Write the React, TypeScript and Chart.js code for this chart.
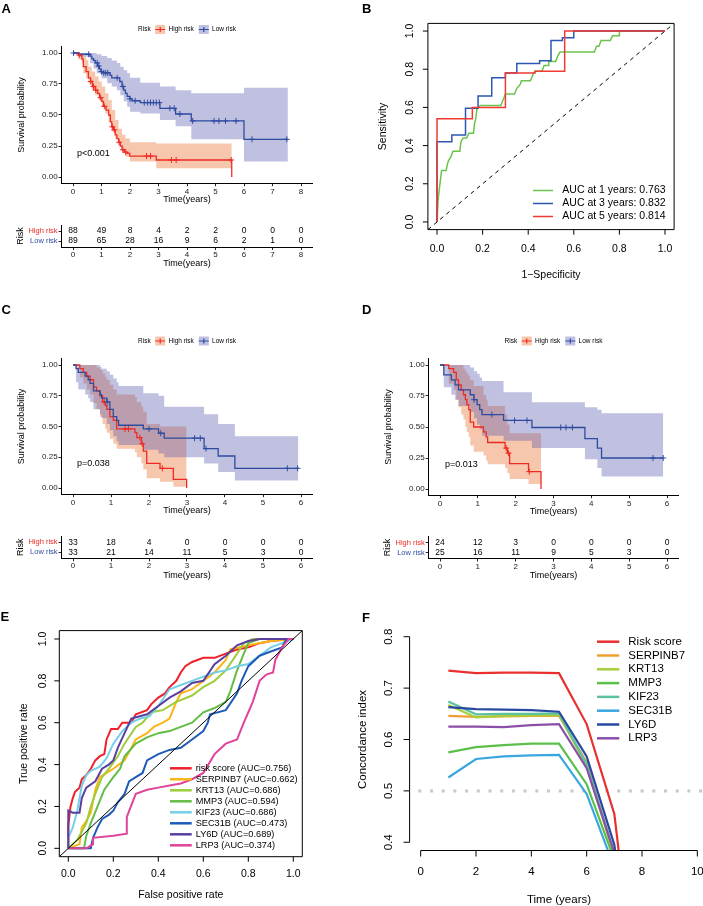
import React, { useEffect, useRef } from "react";
import { Chart, registerables } from "chart.js";

Chart.register(...registerables);

const FONT = '"Liberation Sans", Arial, Helvetica, sans-serif';
Chart.defaults.font.family = FONT;
Chart.defaults.color = "#000";

// ---------------- Panel A : KM (training) ----------------
const aYears = [0, 1, 2, 3, 4, 5, 6, 7, 8];
const aAtRiskHigh = [88, 49, 8, 4, 2, 2, 0, 0, 0];
const aAtRiskLow = [89, 65, 28, 16, 9, 6, 2, 1, 0];
const aHighTime = [0, 0.19, 0.31, 0.36, 0.46, 0.54, 0.62, 0.68, 0.78, 0.86, 0.93, 1.01, 1.07, 1.16, 1.25, 1.31, 1.36, 1.42, 1.48, 1.54, 1.6, 1.66, 1.72, 1.8, 1.9, 1.99, 2.92, 5.57];
const aHighSurv = [1, 0.984, 0.95, 0.89, 0.85, 0.8, 0.77, 0.73, 0.7, 0.675, 0.64, 0.61, 0.57, 0.54, 0.5, 0.445, 0.405, 0.38, 0.34, 0.31, 0.28, 0.25, 0.22, 0.2, 0.19, 0.169, 0.137, 0];
const aHighBandTime = [0, 0.19, 0.31, 0.36, 0.46, 0.54, 0.66, 0.78, 0.9, 1.01, 1.13, 1.25, 1.36, 1.48, 1.6, 1.72, 1.84, 2.0, 2.92, 5.57];
const aHighUpper = [1, 1, 0.99, 0.97, 0.944, 0.89, 0.85, 0.81, 0.77, 0.73, 0.675, 0.62, 0.54, 0.46, 0.39, 0.34, 0.31, 0.28, 0.27, 0.27];
const aHighLower = [1, 0.95, 0.917, 0.836, 0.796, 0.755, 0.7, 0.66, 0.62, 0.567, 0.513, 0.446, 0.366, 0.31, 0.258, 0.204, 0.164, 0.124, 0.07, 0.07];
const aHighCensTime = [0.22, 0.62, 0.72, 0.8, 0.97, 1.1, 1.38, 1.45, 1.62, 1.75, 1.85, 2.58, 2.72, 3.45, 3.62, 5.55];
const aHighCensSurv = [0.984, 0.77, 0.73, 0.7, 0.64, 0.57, 0.405, 0.38, 0.28, 0.22, 0.2, 0.169, 0.169, 0.137, 0.137, 0.137];
const aLowTime = [0, 0.19, 0.6, 0.66, 0.72, 0.78, 0.86, 0.93, 0.98, 1.05, 1.3, 1.36, 1.64, 1.72, 1.78, 1.84, 1.9, 1.99, 2.07, 2.36, 3.05, 3.6, 4.15, 6.0, 7.54];
const aLowSurv = [1, 0.99, 0.975, 0.955, 0.94, 0.92, 0.895, 0.87, 0.85, 0.84, 0.82, 0.8, 0.77, 0.73, 0.7, 0.675, 0.65, 0.63, 0.615, 0.6, 0.554, 0.508, 0.452, 0.304, 0.304];
const aLowBandTime = [0, 0.19, 0.6, 0.72, 0.83, 1.0, 1.2, 1.36, 1.54, 1.66, 1.78, 1.9, 2.0, 2.36, 3.05, 3.6, 4.15, 6.0, 7.54];
const aLowUpper = [1, 1, 1, 1, 0.99, 0.975, 0.96, 0.94, 0.92, 0.89, 0.86, 0.836, 0.8, 0.76, 0.73, 0.7, 0.675, 0.72, 0.72];
const aLowLower = [1, 0.97, 0.917, 0.876, 0.836, 0.796, 0.756, 0.73, 0.7, 0.66, 0.61, 0.567, 0.527, 0.513, 0.46, 0.41, 0.304, 0.124, 0.124];
const aLowCensTime = [0.02, 0.55, 0.85, 0.9, 1.0, 1.08, 1.15, 1.22, 1.55, 1.75, 2.0, 2.18, 2.5, 2.62, 2.72, 2.82, 2.92, 3.03, 3.4, 3.55, 3.75, 4.2, 4.95, 5.12, 5.35, 5.72, 6.28, 7.5];
const aLowCensSurv = [1, 0.99, 0.92, 0.895, 0.85, 0.84, 0.84, 0.84, 0.8, 0.73, 0.63, 0.615, 0.6, 0.6, 0.6, 0.6, 0.6, 0.6, 0.554, 0.554, 0.508, 0.452, 0.452, 0.452, 0.452, 0.452, 0.304, 0.304];

// ---------------- Panel C : KM (validation 1) ----------------
const cYears = [0, 1, 2, 3, 4, 5, 6];
const cAtRiskHigh = [33, 18, 4, 0, 0, 0, 0];
const cAtRiskLow = [33, 21, 14, 11, 5, 3, 0];
const cHighTime = [0, 0.18, 0.27, 0.36, 0.45, 0.54, 0.62, 0.71, 0.78, 0.85, 0.89, 0.97, 1.06, 1.15, 1.63, 1.68, 1.8, 1.85, 1.94, 2.29, 2.64, 2.99];
const cHighSurv = [1, 0.97, 0.94, 0.91, 0.88, 0.82, 0.79, 0.75, 0.7, 0.67, 0.64, 0.58, 0.55, 0.48, 0.45, 0.41, 0.36, 0.3, 0.2, 0.16, 0.07, 0];
const cHighUpper = [1, 1, 1, 1, 1, 1, 0.98, 0.96, 0.93, 0.9, 0.88, 0.84, 0.8, 0.76, 0.74, 0.7, 0.66, 0.62, 0.52, 0.5, 0.5, 0.5];
const cHighLower = [1, 0.9, 0.85, 0.8, 0.76, 0.69, 0.64, 0.58, 0.52, 0.48, 0.45, 0.4, 0.36, 0.32, 0.29, 0.25, 0.2, 0.15, 0.08, 0.05, 0.01, 0.01];
const cHighCensTime = [0.82, 1.37, 1.46, 1.76, 1.82, 2.35];
const cHighCensSurv = [0.7, 0.48, 0.48, 0.41, 0.36, 0.16];
const cLowTime = [0, 0.08, 0.14, 0.32, 0.4, 0.45, 0.54, 0.71, 0.75, 0.89, 0.97, 1.06, 1.15, 1.2, 1.85, 2.25, 2.4, 3.45, 3.82, 4.26, 5.93];
const cLowSurv = [1, 0.97, 0.94, 0.91, 0.88, 0.85, 0.79, 0.76, 0.73, 0.7, 0.64, 0.58, 0.55, 0.51, 0.48, 0.445, 0.405, 0.32, 0.26, 0.16, 0.16];
const cLowUpper = [1, 1, 1, 1, 1, 1, 1, 0.985, 0.97, 0.95, 0.92, 0.89, 0.86, 0.83, 0.77, 0.75, 0.66, 0.6, 0.52, 0.42, 0.42];
const cLowLower = [1, 0.86, 0.8, 0.76, 0.73, 0.7, 0.64, 0.6, 0.57, 0.52, 0.47, 0.42, 0.38, 0.35, 0.31, 0.28, 0.25, 0.2, 0.13, 0.06, 0.06];
const cLowCensTime = [0.9, 2.0, 2.31, 3.2, 3.35, 3.5, 5.64, 5.91];
const cLowCensSurv = [0.7, 0.48, 0.445, 0.405, 0.405, 0.32, 0.16, 0.16];

// ---------------- Panel D : KM (validation 2) ----------------
const dYears = [0, 1, 2, 3, 4, 5, 6];
const dAtRiskHigh = [24, 12, 3, 0, 0, 0, 0];
const dAtRiskLow = [25, 16, 11, 9, 5, 3, 0];
const dHighTime = [0, 0.23, 0.36, 0.43, 0.49, 0.56, 0.62, 0.67, 0.71, 0.76, 0.8, 0.89, 1.15, 1.22, 1.26, 1.72, 1.78, 1.84, 2.34, 2.67];
const dHighSurv = [1, 0.97, 0.94, 0.88, 0.84, 0.8, 0.76, 0.72, 0.68, 0.64, 0.54, 0.5, 0.46, 0.42, 0.375, 0.33, 0.29, 0.205, 0.14, 0];
const dHighUpper = [1, 1, 1, 1, 1, 1, 0.97, 0.95, 0.93, 0.91, 0.88, 0.83, 0.76, 0.72, 0.67, 0.6, 0.52, 0.45, 0.45, 0.45];
const dHighLower = [1, 0.85, 0.8, 0.72, 0.66, 0.6, 0.56, 0.5, 0.46, 0.42, 0.35, 0.3, 0.27, 0.23, 0.2, 0.17, 0.13, 0.08, 0.04, 0.04];
const dHighCensTime = [1.75, 1.81, 2.36];
const dHighCensSurv = [0.33, 0.29, 0.14];
const dLowTime = [0, 0.1, 0.3, 0.4, 0.49, 0.8, 0.9, 0.98, 1.05, 1.11, 1.68, 2.43, 3.83, 4.16, 4.27, 5.9];
const dLowSurv = [1, 0.92, 0.88, 0.84, 0.8, 0.76, 0.72, 0.68, 0.64, 0.6, 0.553, 0.496, 0.407, 0.33, 0.25, 0.25];
const dLowUpper = [1, 1, 1, 1, 1, 0.98, 0.95, 0.93, 0.9, 0.87, 0.78, 0.7, 0.66, 0.64, 0.61, 0.61];
const dLowLower = [1, 0.82, 0.76, 0.72, 0.67, 0.62, 0.57, 0.52, 0.48, 0.43, 0.39, 0.33, 0.24, 0.17, 0.1, 0.1];
const dLowCensTime = [0.9, 1.37, 1.97, 2.3, 3.19, 3.33, 3.5, 5.63, 5.9];
const dLowCensSurv = [0.72, 0.6, 0.553, 0.553, 0.496, 0.496, 0.496, 0.25, 0.25];

// ---------------- Panel B : time-dependent ROC ----------------
const bTicks = [0, 0.2, 0.4, 0.6, 0.8, 1.0];
const bLegend = ["AUC at 1 years: 0.763", "AUC at 3 years: 0.832", "AUC at 5 years: 0.814"];
const bFpr1 = [0, 0.005, 0.01, 0.015, 0.02, 0.04, 0.045, 0.05, 0.06, 0.07, 0.1, 0.105, 0.115, 0.13, 0.14, 0.16, 0.165, 0.17, 0.175, 0.19, 0.28, 0.29, 0.3, 0.34, 0.35, 0.365, 0.37, 0.41, 0.42, 0.43, 0.46, 0.47, 0.49, 0.49, 0.52, 0.53, 0.54, 0.69, 0.7, 0.71, 0.72, 0.76, 0.77, 0.8, 0.8, 1];
const bTpr1 = [0, 0.12, 0.17, 0.22, 0.27, 0.27, 0.3, 0.32, 0.34, 0.37, 0.37, 0.42, 0.44, 0.44, 0.465, 0.465, 0.52, 0.54, 0.59, 0.61, 0.61, 0.64, 0.67, 0.67, 0.7, 0.72, 0.74, 0.74, 0.77, 0.79, 0.79, 0.82, 0.82, 0.84, 0.84, 0.87, 0.89, 0.89, 0.92, 0.92, 0.95, 0.95, 0.975, 0.975, 1, 1];
const bFpr3 = [0, 0, 0.065, 0.065, 0.125, 0.125, 0.18, 0.18, 0.24, 0.24, 0.3, 0.3, 0.35, 0.35, 0.45, 0.45, 0.5, 0.5, 0.55, 0.55, 0.6, 0.6, 1];
const bTpr3 = [0, 0.42, 0.42, 0.455, 0.455, 0.595, 0.595, 0.66, 0.66, 0.755, 0.755, 0.78, 0.78, 0.83, 0.83, 0.845, 0.845, 0.95, 0.95, 0.965, 0.965, 1, 1];
const bFpr5 = [0, 0, 0.155, 0.155, 0.3, 0.3, 0.43, 0.43, 0.56, 0.56, 1];
const bTpr5 = [0, 0.54, 0.54, 0.6, 0.6, 0.78, 0.78, 0.79, 0.79, 1, 1];

// ---------------- Panel E : ROC of score and genes ----------------
const eTicks = [0, 0.2, 0.4, 0.6, 0.8, 1.0];
const eNames = ["risk score (AUC=0.756)", "SERPINB7 (AUC=0.662)", "KRT13 (AUC=0.686)", "MMP3 (AUC=0.594)", "KIF23 (AUC=0.686)", "SEC31B (AUC=0.473)", "LY6D (AUC=0.689)", "LRP3 (AUC=0.374)"];
const eRiskFpr = [0, 0, 0.01, 0.02, 0.03, 0.05, 0.06, 0.08, 0.1, 0.12, 0.14, 0.16, 0.17, 0.19, 0.22, 0.24, 0.28, 0.29, 0.3, 0.35, 0.37, 0.4, 0.43, 0.45, 0.48, 0.5, 0.52, 0.55, 0.6, 0.65, 0.7, 0.75, 0.8, 0.85, 0.9, 1];
const eRiskTpr = [0, 0.11, 0.2, 0.24, 0.27, 0.29, 0.33, 0.35, 0.38, 0.42, 0.44, 0.45, 0.52, 0.57, 0.57, 0.6, 0.6, 0.62, 0.64, 0.66, 0.69, 0.72, 0.74, 0.77, 0.8, 0.84, 0.87, 0.89, 0.91, 0.91, 0.93, 0.95, 0.96, 0.98, 0.99, 1];
const eSerpFpr = [0, 0.05, 0.06, 0.08, 0.1, 0.12, 0.14, 0.17, 0.2, 0.25, 0.3, 0.35, 0.38, 0.42, 0.45, 0.48, 0.5, 0.55, 0.6, 0.65, 0.7, 0.72, 0.8, 0.9, 1];
const eSerpTpr = [0, 0.02, 0.1, 0.13, 0.17, 0.28, 0.34, 0.36, 0.38, 0.42, 0.52, 0.55, 0.58, 0.6, 0.62, 0.7, 0.74, 0.76, 0.8, 0.84, 0.9, 0.95, 0.97, 0.99, 1];
const eKrtFpr = [0, 0.04, 0.06, 0.08, 0.1, 0.12, 0.15, 0.18, 0.22, 0.25, 0.3, 0.33, 0.37, 0.42, 0.48, 0.55, 0.6, 0.65, 0.7, 0.75, 0.78, 0.82, 1];
const eKrtTpr = [0, 0.04, 0.08, 0.12, 0.2, 0.26, 0.34, 0.38, 0.44, 0.5, 0.58, 0.6, 0.65, 0.66, 0.7, 0.73, 0.77, 0.8, 0.85, 0.93, 0.98, 1, 1];
const eMmpFpr = [0, 0.07, 0.08, 0.1, 0.13, 0.16, 0.2, 0.23, 0.25, 0.3, 0.35, 0.4, 0.45, 0.5, 0.55, 0.6, 0.65, 0.7, 0.72, 0.75, 0.78, 0.8, 0.85, 1];
const eMmpTpr = [0, 0, 0.06, 0.12, 0.2, 0.28, 0.34, 0.38, 0.44, 0.5, 0.53, 0.55, 0.56, 0.58, 0.6, 0.65, 0.67, 0.7, 0.75, 0.85, 0.93, 0.98, 1, 1];
const eKifFpr = [0, 0, 0.02, 0.04, 0.06, 0.08, 0.1, 0.14, 0.17, 0.2, 0.24, 0.28, 0.32, 0.36, 0.4, 0.45, 0.5, 0.55, 0.6, 0.65, 0.7, 0.75, 0.8, 0.85, 0.9, 1];
const eKifTpr = [0, 0.05, 0.1, 0.18, 0.3, 0.35, 0.37, 0.39, 0.43, 0.5, 0.56, 0.6, 0.62, 0.63, 0.68, 0.76, 0.78, 0.8, 0.82, 0.84, 0.85, 0.87, 0.88, 0.92, 0.96, 1];
const eSecFpr = [0, 0.1, 0.11, 0.13, 0.15, 0.18, 0.2, 0.22, 0.25, 0.27, 0.3, 0.33, 0.35, 0.4, 0.45, 0.5, 0.55, 0.6, 0.62, 0.63, 0.7, 0.75, 0.77, 0.8, 0.85, 0.9, 0.95, 0.97, 1];
const eSecTpr = [0, 0, 0.05, 0.1, 0.14, 0.16, 0.18, 0.22, 0.26, 0.32, 0.34, 0.36, 0.42, 0.45, 0.47, 0.48, 0.52, 0.56, 0.6, 0.64, 0.66, 0.74, 0.8, 0.87, 0.92, 0.94, 0.96, 1, 1];
const eLyFpr = [0, 0, 0.02, 0.05, 0.06, 0.08, 0.12, 0.15, 0.18, 0.2, 0.22, 0.25, 0.28, 0.35, 0.4, 0.45, 0.5, 0.55, 0.6, 0.65, 0.7, 0.75, 0.8, 0.85, 1];
const eLyTpr = [0, 0.18, 0.17, 0.17, 0.24, 0.29, 0.32, 0.38, 0.4, 0.42, 0.48, 0.55, 0.62, 0.64, 0.68, 0.72, 0.75, 0.79, 0.8, 0.88, 0.92, 0.97, 0.99, 1, 1];
const eLrpFpr = [0, 0.08, 0.11, 0.11, 0.2, 0.26, 0.26, 0.3, 0.35, 0.4, 0.45, 0.5, 0.55, 0.6, 0.65, 0.7, 0.75, 0.78, 0.8, 0.82, 0.85, 0.88, 0.91, 0.92, 0.95, 0.98, 1];
const eLrpTpr = [0, 0, 0.02, 0.05, 0.06, 0.07, 0.15, 0.26, 0.28, 0.29, 0.3, 0.31, 0.33, 0.36, 0.45, 0.5, 0.52, 0.6, 0.65, 0.7, 0.8, 0.83, 0.84, 0.9, 0.96, 1, 1];

// ---------------- Panel F : C-index over time ----------------
const fXTicks = [0, 2, 4, 6, 8, 10];
const fYTicks = [0.4, 0.5, 0.6, 0.7, 0.8];
const fNames = ["Risk score", "SERPINB7", "KRT13", "MMP3", "KIF23", "SEC31B", "LY6D", "LRP3"];
const fTimes = [1, 2, 3, 4, 5, 6, 7, 8];
const fRisk = [0.734, 0.729, 0.73, 0.73, 0.729, 0.63, 0.455, 0.0];
const fSerp = [0.646, 0.644, 0.645, 0.646, 0.646, 0.556, 0.373, 0.0];
const fKrt = [0.667, 0.643, 0.646, 0.647, 0.648, 0.548, 0.373, 0.0];
const fMmp = [0.575, 0.585, 0.589, 0.592, 0.592, 0.513, 0.366, 0.0];
const fKif = [0.674, 0.649, 0.65, 0.65, 0.651, 0.552, 0.378, 0.0];
const fSec = [0.526, 0.562, 0.567, 0.569, 0.57, 0.494, 0.351, 0.0];
const fLy = [0.663, 0.659, 0.658, 0.657, 0.654, 0.567, 0.395, 0.0];
const fLrp = [0.625, 0.625, 0.624, 0.628, 0.63, 0.544, 0.379, 0.0];
const fRef = 0.5;

// ---------------- styles ----------------
const KM_RED = "#EE2A24";
const KM_BLUE = "#2E4C9F";
const KM_RED_BAND = "rgba(232,86,6,0.33)";
const KM_BLUE_BAND = "rgba(81,84,172,0.36)";
const B_COLORS = ["#6DC24B", "#2B57B3", "#F23A30"];
const E_COLORS = ["#F0202A", "#FDB515", "#9DCC3C", "#63BC46", "#74D0E8", "#1E5BB8", "#5A3FA0", "#E0449A"];
const F_COLORS = ["#E8312F", "#F0A032", "#A8CE3C", "#5BBF4A", "#5CC39E", "#3AA6DF", "#2948A0", "#8B4FA8"];

const pts = (xs: number[], ys: number[]) => xs.map((x, i) => ({ x, y: ys[i] }));

// ---------------- KM builders ----------------
function kmConfig(k: any) {
  const xH = k.xTitleY + 5.4 - k.area.b;
  const band = (t: number[], v: number[], fill: any, color: string, order: number) => ({
    data: pts(t, v), fill, backgroundColor: color, borderColor: "rgba(0,0,0,0)", borderWidth: 0, pointRadius: 0, stepped: true, order,
  });
  const datasets = [
    band(k.hi.t, k.hi.up, "+1", KM_RED_BAND, 12),
    band(k.hi.t, k.hi.lo, false, KM_RED_BAND, 12),
    band(k.lo.bt, k.lo.up, "+1", KM_BLUE_BAND, 11),
    band(k.lo.bt, k.lo.lo, false, KM_BLUE_BAND, 11),
    { data: pts(k.hi.t, k.hi.s), borderColor: KM_RED, borderWidth: 1.3, pointRadius: 0, stepped: true, fill: false, order: 6 },
    { data: pts(k.lo.t, k.lo.s), borderColor: KM_BLUE, borderWidth: 1.3, pointRadius: 0, stepped: true, fill: false, order: 5 },
    { data: pts(k.hi.ct, k.hi.cs), showLine: false, pointStyle: "cross", pointRadius: 3, pointBorderWidth: 1, pointBorderColor: KM_RED, borderColor: KM_RED, order: 2 },
    { data: pts(k.lo.ct, k.lo.cs), showLine: false, pointStyle: "cross", pointRadius: 3, pointBorderWidth: 1, pointBorderColor: KM_BLUE, borderColor: KM_BLUE, order: 1 },
  ];
  const legendPlugin = {
    id: "kmLegend",
    afterDraw(chart: any) {
      const { ctx, chartArea: a } = chart;
      ctx.save();
      ctx.font = `6.5px ${FONT}`;
      ctx.textBaseline = "middle";
      const items: any[] = [
        { t: "Risk" }, { g: 4.5 }, { key: KM_RED, band: KM_RED_BAND }, { g: 3.3 }, { t: "High risk" }, { g: 5 },
        { key: KM_BLUE, band: KM_BLUE_BAND }, { g: 3.3 }, { t: "Low risk" },
      ];
      const kw = 10;
      const widths = items.map((it) => (it.t ? ctx.measureText(it.t).width : it.g ? it.g : kw));
      const total = widths.reduce((s: number, w: number) => s + w, 0);
      let x = (a.left + a.right) / 2 - total / 2;
      const y = k.legendY;
      items.forEach((it, i) => {
        if (it.t) {
          ctx.fillStyle = "#000";
          ctx.fillText(it.t, x, y);
        } else if (it.key) {
          ctx.fillStyle = it.band;
          ctx.fillRect(x, y - 4.5, kw, 9);
          ctx.strokeStyle = it.key;
          ctx.lineWidth = 1.2;
          ctx.beginPath();
          ctx.moveTo(x, y); ctx.lineTo(x + kw, y);
          ctx.moveTo(x + kw / 2, y - 2.5); ctx.lineTo(x + kw / 2, y + 2.5);
          ctx.stroke();
        }
        x += widths[i];
      });
      ctx.restore();
    },
  };
  const pPlugin = {
    id: "kmP",
    afterDatasetsDraw(chart: any) {
      const { ctx, scales } = chart;
      ctx.save();
      ctx.font = `9px ${FONT}`;
      ctx.fillStyle = "#000";
      ctx.textAlign = "left";
      ctx.textBaseline = "middle";
      ctx.fillText(k.pText, scales.x.getPixelForValue(k.pX), scales.y.getPixelForValue(k.pY));
      ctx.restore();
    },
  };
  return {
    type: "line",
    data: { datasets },
    options: {
      responsive: false, animation: false, devicePixelRatio: 1, events: [],
      layout: { padding: { left: 0, top: k.area.t, right: k.W - k.area.r, bottom: k.H - k.area.b - xH } },
      plugins: { legend: { display: false }, tooltip: { enabled: false }, colors: { enabled: false } },
      scales: {
        x: {
          type: "linear", min: -0.05 * k.xMax, max: 1.05 * k.xMax,
          afterBuildTicks: (s: any) => { s.ticks = k.xTicks.map((v: number) => ({ value: v })); },
          afterFit: (s: any) => { s.height = xH; },
          grid: { display: true, drawOnChartArea: false, drawTicks: true, tickLength: 3, color: "#222", lineWidth: 1 },
          border: { display: true, color: "#000", width: 1 },
          ticks: { font: { size: 8 }, color: "#222", padding: 1, maxRotation: 0, autoSkip: false, callback: (v: any) => String(v) },
          title: { display: true, text: "Time(years)", font: { size: 9 }, color: "#000", padding: { top: 0, bottom: 0 } },
        },
        y: {
          type: "linear", min: -0.05, max: 1.05,
          afterBuildTicks: (s: any) => { s.ticks = [0, 0.25, 0.5, 0.75, 1].map((v) => ({ value: v })); },
          afterFit: (s: any) => { s.width = k.area.l; },
          grid: { display: true, drawOnChartArea: false, drawTicks: true, tickLength: 3, color: "#222", lineWidth: 1 },
          border: { display: true, color: "#000", width: 1 },
          ticks: { font: { size: 8 }, color: "#222", padding: 1, autoSkip: false, callback: (v: any) => Number(v).toFixed(2) },
          title: { display: true, text: "Survival probability", font: { size: 9 }, color: "#000", padding: { top: k.yTitleX - 5.4, bottom: 0 } },
        },
      },
    },
    plugins: [legendPlugin, pPlugin],
  };
}

function tableConfig(k: any) {
  const xH = k.xTitleY + 5.4 - k.area.b;
  const numPlugin = {
    id: "riskNums",
    afterDraw(chart: any) {
      const { ctx, scales } = chart;
      ctx.save();
      ctx.font = `8.5px ${FONT}`;
      ctx.fillStyle = "#000";
      ctx.textAlign = "center";
      ctx.textBaseline = "middle";
      k.years.forEach((t: number, i: number) => {
        const px = scales.x.getPixelForValue(t);
        ctx.fillText(String(k.hi[i]), px, scales.y.getPixelForValue(2));
        ctx.fillText(String(k.lo[i]), px, scales.y.getPixelForValue(1));
      });
      ctx.restore();
    },
  };
  return {
    type: "line",
    data: { datasets: [{ data: [], pointRadius: 0 }] },
    options: {
      responsive: false, animation: false, devicePixelRatio: 1, events: [],
      layout: { padding: { left: 0, top: k.area.t, right: k.W - k.area.r, bottom: k.H - k.area.b - xH } },
      plugins: { legend: { display: false }, tooltip: { enabled: false }, colors: { enabled: false } },
      scales: {
        x: {
          type: "linear", min: -0.05 * k.xMax, max: 1.05 * k.xMax,
          afterBuildTicks: (s: any) => { s.ticks = k.years.map((v: number) => ({ value: v })); },
          afterFit: (s: any) => { s.height = xH; },
          grid: { display: true, drawOnChartArea: false, drawTicks: true, tickLength: 3, color: "#222", lineWidth: 1 },
          border: { display: true, color: "#000", width: 1 },
          ticks: { font: { size: 8 }, color: "#222", padding: 0, maxRotation: 0, autoSkip: false, callback: (v: any) => String(v) },
          title: { display: true, text: "Time(years)", font: { size: 9 }, color: "#000", padding: { top: 0, bottom: 0 } },
        },
        y: {
          type: "linear", min: 0.4, max: 2.6,
          afterBuildTicks: (s: any) => { s.ticks = [{ value: 1 }, { value: 2 }]; },
          afterFit: (s: any) => { s.width = k.area.l; },
          grid: { display: true, drawOnChartArea: false, drawTicks: true, tickLength: 3, color: "#222", lineWidth: 1 },
          border: { display: true, color: "#000", width: 1 },
          ticks: {
            font: { size: 7.5 }, padding: 1, autoSkip: false,
            color: (c: any) => (c.tick && c.tick.value === 2 ? KM_RED : KM_BLUE),
            callback: (v: any) => (v === 2 ? "High risk" : "Low risk"),
          },
          title: { display: true, text: "Risk", font: { size: 9 }, color: "#000", padding: { top: k.riskTitleX - 5.4, bottom: 0 } },
        },
      },
    },
    plugins: [numPlugin],
  };
}

// ---------------- R-style axes / legend plugins ----------------
function rAxes(o: any) {
  return {
    id: "rAxes",
    afterDatasetsDraw(chart: any) {
      const { ctx, chartArea: a, scales } = chart;
      const sx = scales.x, sy = scales.y;
      ctx.save();
      ctx.strokeStyle = "#000";
      ctx.lineWidth = 1;
      ctx.setLineDash([]);
      ctx.beginPath();
      if (o.box) {
        ctx.rect(a.left, a.top, a.right - a.left, a.bottom - a.top);
      } else {
        ctx.moveTo(sx.getPixelForValue(o.xTicks[0]), a.bottom);
        ctx.lineTo(sx.getPixelForValue(o.xTicks[o.xTicks.length - 1]), a.bottom);
        ctx.moveTo(a.left, sy.getPixelForValue(o.yTicks[0]));
        ctx.lineTo(a.left, sy.getPixelForValue(o.yTicks[o.yTicks.length - 1]));
      }
      o.xTicks.forEach((v: number) => { const p = sx.getPixelForValue(v); ctx.moveTo(p, a.bottom); ctx.lineTo(p, a.bottom + o.tick); });
      o.yTicks.forEach((v: number) => { const p = sy.getPixelForValue(v); ctx.moveTo(a.left, p); ctx.lineTo(a.left - o.tick, p); });
      ctx.stroke();
      ctx.fillStyle = "#000";
      ctx.font = `${o.font}px ${FONT}`;
      ctx.textAlign = "center";
      ctx.textBaseline = "middle";
      o.xTicks.forEach((v: number) => ctx.fillText(o.xFmt(v), sx.getPixelForValue(v), o.xLabY));
      o.yTicks.forEach((v: number) => {
        ctx.save();
        ctx.translate(o.yLabX, sy.getPixelForValue(v));
        ctx.rotate(-Math.PI / 2);
        ctx.fillText(o.yFmt(v), 0, 0);
        ctx.restore();
      });
      ctx.fillText(o.xTitle, (a.left + a.right) / 2, o.xTitleY);
      ctx.save();
      ctx.translate(o.yTitleX, (a.top + a.bottom) / 2);
      ctx.rotate(-Math.PI / 2);
      ctx.fillText(o.yTitle, 0, 0);
      ctx.restore();
      ctx.restore();
    },
  };
}

function rLegend(o: any) {
  return {
    id: "rLegend",
    afterDraw(chart: any) {
      const { ctx } = chart;
      ctx.save();
      ctx.font = `${o.font}px ${FONT}`;
      ctx.textAlign = "left";
      ctx.textBaseline = "middle";
      o.names.forEach((n: string, i: number) => {
        const y = o.y0 + i * o.dy;
        ctx.strokeStyle = o.colors[i];
        ctx.lineWidth = o.lw;
        ctx.beginPath();
        ctx.moveTo(o.x0, y);
        ctx.lineTo(o.x1, y);
        ctx.stroke();
        ctx.fillStyle = "#000";
        ctx.fillText(n, o.tx, y);
      });
      ctx.restore();
    },
  };
}

const baseOpts = (pad: any, xMin: number, xMax: number, yMin: number, yMax: number) => ({
  responsive: false, animation: false, devicePixelRatio: 1, events: [],
  layout: { padding: pad },
  elements: { point: { radius: 0 }, line: { tension: 0 } },
  plugins: { legend: { display: false }, tooltip: { enabled: false }, colors: { enabled: false } },
  scales: {
    x: { type: "linear", min: xMin, max: xMax, display: false },
    y: { type: "linear", min: yMin, max: yMax, display: false },
  },
});

function makeB() {
  const curves = [[bFpr1, bTpr1], [bFpr3, bTpr3], [bFpr5, bTpr5]];
  const datasets: any[] = curves.map((c, i) => ({ data: pts(c[0], c[1]), borderColor: B_COLORS[i], borderWidth: 1.5, fill: false, order: 3 - i }));
  datasets.push({ data: [{ x: -0.04, y: -0.04 }, { x: 1.04, y: 1.04 }], borderColor: "#000", borderWidth: 1, borderDash: [4, 4], fill: false, order: 10 });
  return {
    type: "line",
    data: { datasets },
    options: baseOpts({ left: 77.9, top: 23.4, right: 28.9, bottom: 60.4 }, -0.04, 1.04, -0.04, 1.04),
    plugins: [
      rAxes({ box: true, xTicks: bTicks, yTicks: bTicks, xFmt: (v: number) => v.toFixed(1), yFmt: (v: number) => v.toFixed(1), tick: 5, font: 10.5, xLabY: 249, yLabX: 60, xTitle: "1\u2212Specificity", xTitleY: 275, yTitle: "Sensitivity", yTitleX: 33 }),
      rLegend({ names: bLegend, colors: B_COLORS, x0: 183, x1: 203, tx: 212.3, y0: 190.5, dy: 13, font: 10.5, lw: 1.5 }),
    ],
  };
}

function makeE() {
  const curves = [[eRiskFpr, eRiskTpr], [eSerpFpr, eSerpTpr], [eKrtFpr, eKrtTpr], [eMmpFpr, eMmpTpr], [eKifFpr, eKifTpr], [eSecFpr, eSecTpr], [eLyFpr, eLyTpr], [eLrpFpr, eLrpTpr]];
  const datasets: any[] = curves.map((c, i) => ({ data: pts(c[0], c[1]), borderColor: E_COLORS[i], borderWidth: 2, fill: false, order: -i }));
  datasets.push({ data: [{ x: -0.04, y: -0.04 }, { x: 1.04, y: 1.04 }], borderColor: "#000", borderWidth: 1, fill: false, order: -100 });
  return {
    type: "line",
    data: { datasets },
    options: baseOpts({ left: 59.3, top: 40.6, right: 47.7, bottom: 49.3 }, -0.04, 1.04, -0.04, 1.04),
    plugins: [
      rAxes({ box: true, xTicks: eTicks, yTicks: eTicks, xFmt: (v: number) => v.toFixed(1), yFmt: (v: number) => v.toFixed(1), tick: 5, font: 10.5, xLabY: 284, yLabX: 42.7, xTitle: "False positive rate", xTitleY: 305, yTitle: "True positive rate", yTitleX: 24 }),
      rLegend({ names: eNames, colors: E_COLORS, x0: 170, x1: 191.7, tx: 195.7, y0: 178.3, dy: 11, font: 9.2, lw: 2.5 }),
    ],
  };
}

function makeF() {
  const series = [fRisk, fSerp, fKrt, fMmp, fKif, fSec, fLy, fLrp];
  const datasets: any[] = series.map((s, i) => ({ data: pts(fTimes, s), borderColor: F_COLORS[i], borderWidth: 2.2, fill: false, order: -i, clip: 0 }));
  datasets.push({ data: [{ x: -0.4, y: fRef }, { x: 10.4, y: fRef }], borderColor: "#C8C8C8", borderWidth: 3, borderDash: [3, 8.7], borderDashOffset: 3, fill: false, order: 100 });
  return {
    type: "line",
    data: { datasets },
    options: baseOpts({ left: 59.6, top: 38.5, right: 21.6, bottom: 55.5 }, -0.4, 10.4, 0.384, 0.816),
    plugins: [
      rAxes({ box: false, xTicks: fXTicks, yTicks: fYTicks, xFmt: (v: number) => String(v), yFmt: (v: number) => v.toFixed(1), tick: 6, font: 11.5, xLabY: 281.7, yLabX: 39, xTitle: "Time (years)", xTitleY: 310, yTitle: "Concordance index", yTitleX: 13.3 }),
      rLegend({ names: fNames, colors: F_COLORS, x0: 247, x1: 269.3, tx: 278.3, y0: 51.7, dy: 13.8, font: 11.5, lw: 2.5 }),
    ],
  };
}

// ---------------- panel specs ----------------
const specA = {
  W: 350, H: 212, area: { l: 61.6, t: 46.8, r: 312.4, b: 183.2 }, xMax: 8, xTicks: aYears,
  legendY: 29.5, yTitleX: 21.7, xTitleY: 200, pText: "p<0.001", pX: 0.14, pY: 0.19,
  hi: { t: aHighBandTime, up: aHighUpper, lo: aHighLower, s: aHighSurv, ct: aHighCensTime, cs: aHighCensSurv, st: aHighTime },
  lo: { bt: aLowBandTime, up: aLowUpper, lo: aLowLower, t: aLowTime, s: aLowSurv, ct: aLowCensTime, cs: aLowCensSurv },
};
const tableA = { W: 350, H: 60, area: { l: 61.6, t: 13, r: 312.4, b: 35 }, xMax: 8, years: aYears, hi: aAtRiskHigh, lo: aAtRiskLow, riskTitleX: 20.5, xTitleY: 52 };
const specC = {
  W: 350, H: 228, area: { l: 61.6, t: 63.85, r: 312.4, b: 199.15 }, xMax: 6, xTicks: cYears,
  legendY: 46, yTitleX: 21.7, xTitleY: 216, pText: "p=0.038", pX: 0.105, pY: 0.195,
  hi: { t: cHighTime, up: cHighUpper, lo: cHighLower, s: cHighSurv, ct: cHighCensTime, cs: cHighCensSurv },
  lo: { bt: cLowTime, up: cLowUpper, lo: cLowLower, t: cLowTime, s: cLowSurv, ct: cLowCensTime, cs: cLowCensSurv },
};
const tableC = { W: 350, H: 60, area: { l: 61.6, t: 13.3, r: 312.4, b: 35.3 }, xMax: 6, years: cYears, hi: cAtRiskHigh, lo: cAtRiskLow, riskTitleX: 20.5, xTitleY: 52.3 };
const specD = {
  W: 353, H: 228, area: { l: 78.65, t: 63.8, r: 328.35, b: 200.2 }, xMax: 6, xTicks: dYears,
  legendY: 46, yTitleX: 38.3, xTitleY: 216.7, pText: "p=0.013", pX: 0.13, pY: 0.2,
  hi: { t: dHighTime, up: dHighUpper, lo: dHighLower, s: dHighSurv, ct: dHighCensTime, cs: dHighCensSurv },
  lo: { bt: dLowTime, up: dLowUpper, lo: dLowLower, t: dLowTime, s: dLowSurv, ct: dLowCensTime, cs: dLowCensSurv },
};
const tableD = { W: 353, H: 60, area: { l: 78.65, t: 13.5, r: 328.35, b: 35.5 }, xMax: 6, years: dYears, hi: dAtRiskHigh, lo: dAtRiskLow, riskTitleX: 37.3, xTitleY: 52.5 };

// Panel A's high-risk curve uses its own step times (bands have separate times)
function kmConfigA() {
  const cfg: any = kmConfig({ ...specA, hi: { ...specA.hi } });
  cfg.data.datasets[4].data = pts(aHighTime, aHighSurv);
  return cfg;
}

function ChartBox({ x, y, w, h, make }: { x: number; y: number; w: number; h: number; make: () => any }) {
  const ref = useRef<HTMLCanvasElement>(null);
  useEffect(() => {
    const chart = new Chart(ref.current as HTMLCanvasElement, make());
    return () => chart.destroy();
  }, []);
  return <canvas ref={ref} width={w} height={h} style={{ position: "absolute", left: x, top: y, width: w, height: h }} />;
}

const labelStyle = (left: number, top: number): React.CSSProperties => ({
  position: "absolute", left, top, fontFamily: FONT, fontWeight: "bold", fontSize: 13, lineHeight: "13px", color: "#000",
});

export default function App() {
  return (
    <div style={{ position: "absolute", left: 0, top: 0, width: 703, height: 906, overflow: "hidden", background: "#fff" }}>
      <ChartBox x={0} y={0} w={350} h={212} make={kmConfigA} />
      <ChartBox x={0} y={212} w={350} h={60} make={() => tableConfig(tableA)} />
      <ChartBox x={350} y={0} w={353} h={290} make={makeB} />
      <ChartBox x={0} y={295} w={350} h={228} make={() => kmConfig(specC)} />
      <ChartBox x={0} y={523} w={350} h={60} make={() => tableConfig(tableC)} />
      <ChartBox x={350} y={295} w={353} h={228} make={() => kmConfig(specD)} />
      <ChartBox x={350} y={523} w={353} h={60} make={() => tableConfig(tableD)} />
      <ChartBox x={0} y={590} w={350} h={316} make={makeE} />
      <ChartBox x={350} y={590} w={380} h={316} make={makeF} />
      <div style={labelStyle(1.5, 1.6)}>A</div>
      <div style={labelStyle(362, 1.6)}>B</div>
      <div style={labelStyle(1.5, 303.3)}>C</div>
      <div style={labelStyle(362, 303.3)}>D</div>
      <div style={labelStyle(0.5, 610)}>E</div>
      <div style={labelStyle(362, 611)}>F</div>
    </div>
  );
}
